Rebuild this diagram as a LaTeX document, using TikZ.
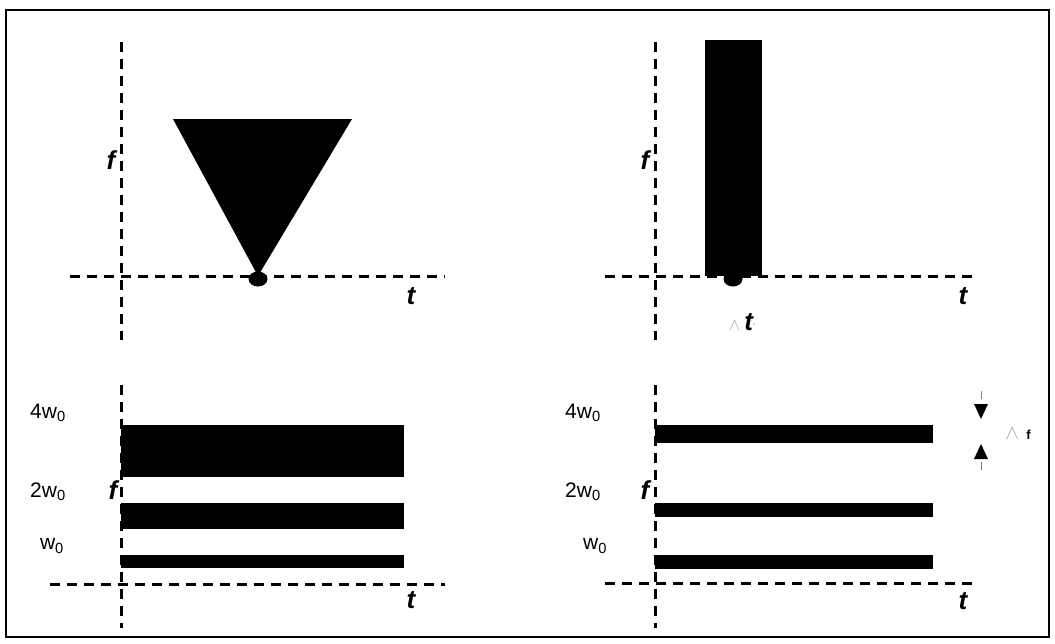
\documentclass[tikz,border=0pt]{standalone}
\usepackage{fontspec}
\setmainfont{Liberation Sans}
\begin{document}
\begin{tikzpicture}[x=1pt,y=-1pt,
  axis/.style={line width=3pt, dash pattern=on 10pt off 7pt},
  bar/.style={fill=black, draw=none},
  lbl/.style={font=\fontsize{21}{21}\selectfont, inner sep=0pt},
  var/.style={font=\fontsize{26}{26}\selectfont\bfseries\itshape, inner sep=0pt}]
\useasboundingbox (0,0) rectangle (1055,643);
\draw[line width=2.5pt] (6,10) rectangle (1049,637);
% ---------- top left ----------
\draw[axis] (121,42) -- (121,340);
\draw[axis] (70,276) -- (445,276);
\fill (173,119) -- (352,119) -- (258,276) -- cycle;
\fill (258,279) ellipse (9.5pt and 7.5pt);
\node[var] (f1) at (111,160) {f};
\node[var] (t1) at (411,296) {t};
% ---------- top right ----------
\draw[axis] (655,42) -- (655,340);
\draw[axis] (605,276) -- (975,276);
\fill (705,40) rectangle (762,276);
\fill (733,279) ellipse (9.5pt and 7.5pt);
\node[var] (f2) at (645,160) {f};
\node[var] (t2) at (963,296) {t};
\node[inner sep=0pt] (dt) at (742,322) {\textcolor{black!35}{\fontsize{16}{16}\selectfont$\wedge$}\hspace{4pt}{\fontsize{26}{26}\selectfont\bfseries\itshape t}\textcolor{black!35}{\fontsize{10}{10}\selectfont\textquotesingle}};
% ---------- bottom left ----------
\draw[axis] (121,385) -- (121,628);
\draw[axis] (50,584) -- (445,584);
\fill[bar] (121,425) rectangle (404,477);
\fill[bar] (121,503) rectangle (404,529);
\fill[bar] (121,555) rectangle (404,568);
\node[var] (f3) at (113,490) {f};
\node[var] (t3) at (411,600) {t};
\node[lbl] (a1) at (48,413) {4w\textsubscript{0}};
\node[lbl] (a2) at (48,492) {2w\textsubscript{0}};
\node[lbl] (a3) at (52,546) {w\textsubscript{0}};
% ---------- bottom right ----------
\draw[axis] (655,385) -- (655,628);
\draw[axis] (605,583) -- (975,583);
\fill[bar] (655,425) rectangle (933,443);
\fill[bar] (655,503) rectangle (933,517);
\fill[bar] (655,555) rectangle (933,569);
\node[var] (f4) at (645,490) {f};
\node[var] (t4) at (963,601) {t};
\node[lbl] (b1) at (583,413) {4w\textsubscript{0}};
\node[lbl] (b2) at (583,492) {2w\textsubscript{0}};
\node[lbl] (b3) at (595,546) {w\textsubscript{0}};
% ---------- delta f ----------
\draw[line width=0.8pt, black!50] (981,391) -- (981,399);
\fill (974,404) -- (988,404) -- (981,419) -- cycle;
\fill (974,459) -- (988,459) -- (981,444) -- cycle;
\draw[line width=0.8pt, black!50] (981,462) -- (981,470);
\node[inner sep=0pt] (df) at (1018,434) {\textcolor{black!35}{\fontsize{20}{20}\selectfont$\wedge$}\hspace{7pt}{\fontsize{13}{13}\selectfont\bfseries f}};
\end{tikzpicture}
\end{document}
